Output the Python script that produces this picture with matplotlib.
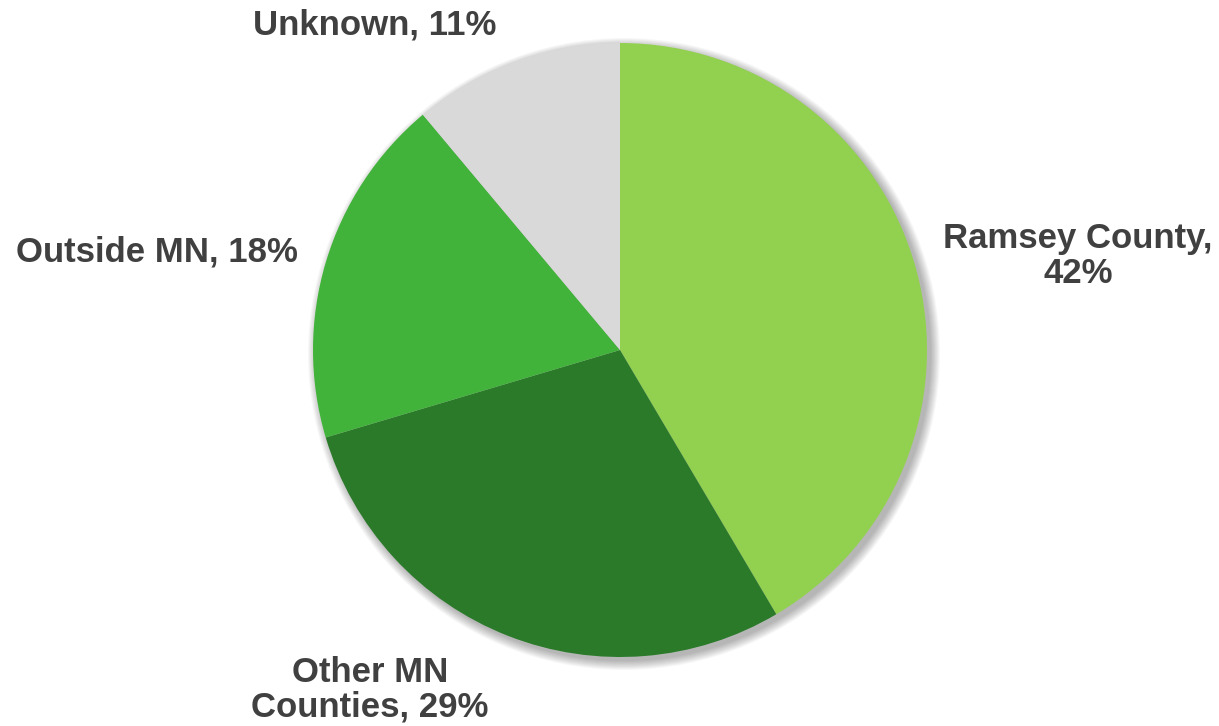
import matplotlib.pyplot as plt
from matplotlib.patches import Circle

plt.rcParams['font.family'] = ['Liberation Sans', 'DejaVu Sans']

labels = ['Ramsey County,\n42%', 'Other MN\nCounties, 29%', 'Outside MN, 18%', 'Unknown, 11%']
shares = [41.5, 28.9, 18.5, 11.1]
colors = ['#92D050', '#2A7A2A', '#42B33A', '#D9D9D9']
# label centres in pixel coords (y measured from bottom)
label_pos = [(1078, 470), (370, 36), (157, 474), (375, 701)]

fig = plt.figure(figsize=(12.19, 7.26), dpi=100)
ax = fig.add_axes([0, 0, 1, 1])

cx, cy, r = 620, 376, 307

# soft shadow, offset down-right
for i in range(10):
    ax.add_patch(Circle((cx + 4, cy - 4), r + i * 1.0, color='black',
                        alpha=0.03, lw=0, zorder=0))

ax.pie(shares, colors=colors, startangle=90, counterclock=False,
       center=(cx, cy), radius=r, frame=True,
       wedgeprops=dict(linewidth=0))
ax.set_xlim(0, 1219)
ax.set_ylim(0, 726)
ax.set_aspect('equal')
ax.axis('off')

for lab, (x, y) in zip(labels, label_pos):
    ax.text(x, y, lab, ha='center', va='center', fontsize=25,
            fontweight='bold', color='#404040', linespacing=1.05)

fig.savefig('out.png', dpi=100)
